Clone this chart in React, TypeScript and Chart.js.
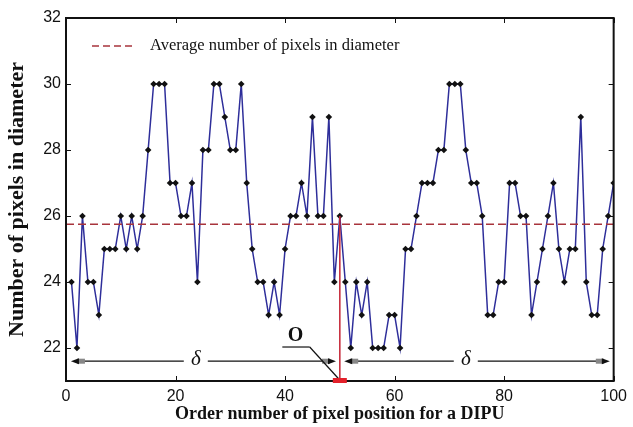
import React, { useEffect, useRef } from "react";
import { Chart, registerables } from "chart.js";

Chart.register(...registerables);

// ---- data ----
const diameters = [
  24, 22, 26, 24, 24, 23, 25, 25, 25, 26,
  25, 26, 25, 26, 28, 30, 30, 30, 27, 27,
  26, 26, 27, 24, 28, 28, 30, 30, 29, 28,
  28, 30, 27, 25, 24, 24, 23, 24, 23, 25,
  26, 26, 27, 26, 29, 26, 26, 29, 24, 26,
  24, 22, 24, 23, 24, 22, 22, 22, 23, 23,
  22, 25, 25, 26, 27, 27, 27, 28, 28, 30,
  30, 30, 28, 27, 27, 26, 23, 23, 24, 24,
  27, 27, 26, 26, 23, 24, 25, 26, 27, 25,
  24, 25, 25, 29, 24, 23, 23, 25, 26, 27,
];
const averageDiameter = 25.75;
const xTicks = [0, 20, 40, 60, 80, 100];
const yTicks = [22, 24, 26, 28, 30, 32];
const xRange = [0, 100];
const yRange = [21, 32];
const pointO = 50; // position of point O
const pointOTop = 26;
const leftDelta = [0.9, 49.3, 23.7]; // from, to, label position
const rightDelta = [50.8, 99.3, 73.0];
const deltaY = 21.6;
const oLabel = [41.9, 22.36];
const oUnderline = [39.5, 44.5, 22.03];

const legendText = "Average number of pixels in diameter";
const xTitle = "Order number of pixel position for a DIPU";
const yTitle = "Number of pixels in diameter";

const overlay = {
  id: "overlay",
  afterDatasetsDraw(chart: any) {
    const { ctx, chartArea: a, scales } = chart;
    const x = scales.x;
    const y = scales.y;
    const line = (x1: number, y1: number, x2: number, y2: number) => {
      ctx.beginPath();
      ctx.moveTo(x1, y1);
      ctx.lineTo(x2, y2);
      ctx.stroke();
    };
    ctx.save();

    // frame
    ctx.strokeStyle = "#111";
    ctx.lineWidth = 2;
    ctx.strokeRect(a.left, a.top, a.right - a.left, a.bottom - a.top);

    // inward ticks
    ctx.lineWidth = 1;
    for (const v of xTicks) {
      const px = Math.round(x.getPixelForValue(v)) + 0.5;
      line(px, a.bottom, px, a.bottom - 5);
      line(px, a.top, px, a.top + 5);
    }
    for (const v of yTicks) {
      const py = Math.round(y.getPixelForValue(v)) + 0.5;
      line(a.left, py, a.left + 5, py);
      line(a.right, py, a.right - 5, py);
    }

    // legend
    const lx = a.left + 26;
    const ly = a.top + 28;
    ctx.strokeStyle = "#a8343c";
    ctx.lineWidth = 1.6;
    ctx.setLineDash([7, 4]);
    line(lx, ly, lx + 42, ly);
    ctx.setLineDash([]);
    ctx.fillStyle = "#111";
    ctx.font = "16.5px 'Liberation Serif', serif";
    ctx.textAlign = "left";
    ctx.textBaseline = "middle";
    ctx.fillText(legendText, lx + 58, ly);

    // delta arrows
    const py = y.getPixelForValue(deltaY);
    const arrowHead = (tip: number, dir: number) => {
      ctx.fillStyle = "#888";
      ctx.fillRect(tip - dir * 14, py - 2.5, dir * 8, 5);
      ctx.fillStyle = "#111";
      ctx.beginPath();
      ctx.moveTo(tip, py);
      ctx.lineTo(tip - dir * 8, py - 3);
      ctx.lineTo(tip - dir * 8, py + 3);
      ctx.closePath();
      ctx.fill();
    };
    ctx.strokeStyle = "#111";
    ctx.lineWidth = 1.3;
    for (const d of [leftDelta, rightDelta]) {
      const x1 = x.getPixelForValue(d[0]);
      const x2 = x.getPixelForValue(d[1]);
      const xm = x.getPixelForValue(d[2]);
      line(x1 + 4, py, xm - 12, py);
      line(xm + 12, py, x2 - 4, py);
      arrowHead(x1, -1);
      arrowHead(x2, 1);
      ctx.fillStyle = "#111";
      ctx.font = "italic 21px 'Liberation Serif', serif";
      ctx.textAlign = "center";
      ctx.textBaseline = "middle";
      ctx.fillText("δ", xm, py - 2);
    }

    // O label
    const ox = x.getPixelForValue(oLabel[0]);
    const oy = y.getPixelForValue(oLabel[1]);
    ctx.font = "bold 20px 'Liberation Serif', serif";
    ctx.fillText("O", ox, oy);
    const uy = y.getPixelForValue(oUnderline[2]);
    const ux1 = x.getPixelForValue(oUnderline[0]);
    const ux2 = x.getPixelForValue(oUnderline[1]);
    ctx.lineWidth = 1.2;
    line(ux1, uy, ux2, uy);
    line(ux2, uy, x.getPixelForValue(pointO) - 1, a.bottom - 2);

    // red marker at O
    ctx.fillStyle = "#e3202a";
    const mx = x.getPixelForValue(pointO);
    ctx.fillRect(mx - 7, a.bottom - 3, 14, 5);

    ctx.restore();
  },
};

export default function App() {
  const ref = useRef<HTMLCanvasElement | null>(null);
  useEffect(() => {
    if (!ref.current) return;
    const points = diameters.map((v, i) => ({ x: i + 1, y: v }));
    const chart = new Chart(ref.current, {
      type: "line",
      data: {
        datasets: [
          {
            label: "Average",
            data: [
              { x: xRange[0], y: averageDiameter },
              { x: xRange[1], y: averageDiameter },
            ],
            borderColor: "#a8343c",
            borderWidth: 1.6,
            borderDash: [8, 4],
            pointRadius: 0,
          },
          {
            label: "O",
            data: [
              { x: pointO, y: pointOTop },
              { x: pointO, y: yRange[0] },
            ],
            borderColor: "#c42434",
            borderWidth: 1.5,
            pointRadius: 0,
            clip: false as any,
          },
          {
            label: "Diameter",
            data: points,
            borderColor: "#2e2e9a",
            borderWidth: 1.5,
            pointStyle: "rectRot",
            pointRadius: 3.3,
            pointBackgroundColor: "#111",
            pointBorderColor: "#111",
            pointBorderWidth: 0,
          },
        ],
      },
      options: {
        responsive: false,
        animation: false,
        devicePixelRatio: 1,
        layout: { padding: { left: 0, top: 18, right: 15, bottom: 0 } },
        plugins: { legend: { display: false }, tooltip: { enabled: false } },
        scales: {
          x: {
            type: "linear",
            min: xRange[0],
            max: xRange[1],
            afterBuildTicks: (s: any) => {
              s.ticks = xTicks.map((v) => ({ value: v }));
            },
            afterFit: (s: any) => {
              s.height = 46;
            },
            grid: { display: false, drawTicks: false },
            border: { display: false },
            ticks: {
              padding: 6,
              color: "#111",
              font: { family: "'Liberation Sans', Arial, sans-serif", size: 16 },
              maxRotation: 0,
            },
            title: {
              display: true,
              text: xTitle,
              color: "#111",
              font: { family: "'Liberation Serif', serif", size: 18, weight: "bold" },
              padding: { top: 0, bottom: 2 },
            },
          },
          y: {
            type: "linear",
            min: yRange[0],
            max: yRange[1],
            afterBuildTicks: (s: any) => {
              s.ticks = yTicks.map((v) => ({ value: v }));
            },
            afterFit: (s: any) => {
              s.width = 66;
            },
            grid: { display: false, drawTicks: false },
            border: { display: false },
            ticks: {
              padding: 5,
              color: "#111",
              font: { family: "'Liberation Sans', Arial, sans-serif", size: 16 },
            },
            title: {
              display: true,
              text: yTitle,
              color: "#111",
              font: { family: "'Liberation Serif', serif", size: 22, weight: "bold" },
              padding: { top: 4, bottom: 0 },
            },
          },
        },
      },
      plugins: [overlay],
    });
    return () => chart.destroy();
  }, []);
  return (
    <div style={{ position: "fixed", left: 0, top: 0, width: 633, height: 427, background: "#fff" }}>
      <canvas ref={ref} width={633} height={427} style={{ display: "block" }} />
    </div>
  );
}
